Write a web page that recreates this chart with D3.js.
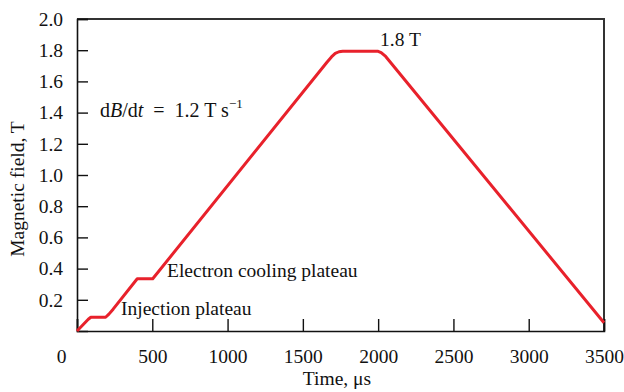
<!DOCTYPE html>
<html>
<head>
<meta charset="utf-8">
<script src="https://cdn.jsdelivr.net/npm/d3@7"></script>
<style>
  body { margin: 0; background: #fff; }
  text { font-family: "Liberation Serif", "Times New Roman", serif; fill: #111; }
</style>
</head>
<body>
<script>
// field cycle (time in microseconds, field in tesla)
let times  = [0, 40, 75, 92, 190, 212, 240, 400, 503, 1660, 1690, 1715, 1740, 1765, 2000, 2020, 2050, 3500]
let fields = [0, 0.04, 0.075, 0.088, 0.088, 0.108, 0.14, 0.335, 0.335, 1.723, 1.757, 1.779, 1.790, 1.793, 1.793, 1.785, 1.76, 0.053]

let xTicks = [0, 500, 1000, 1500, 2000, 2500, 3000, 3500]
let yTicks = [0.2, 0.4, 0.6, 0.8, 1.0, 1.2, 1.4, 1.6, 1.8, 2.0]

let
  width = 624,
  height = 392;

let margin = {
  top: 19,
  bottom: 61,
  left: 77,
  right: 20
}

let fs = '19.5px'

let svg = d3.select('body')
            .append('svg')
            .attr('width', width)
            .attr('height', height)

let xScale = d3.scaleLinear()
            .domain([0, 3500])
            .range([margin.left, width - margin.right])

let yScale = d3.scaleLinear()
            .domain([0, 2.0])
            .range([height - margin.bottom, margin.top])

// frame: top and right sides
svg.append('path')
   .attr('d', `M${margin.left},${margin.top}H${width - margin.right}V${height - margin.bottom}`)
   .attr('fill', 'none')
   .attr('stroke', '#333')
   .attr('stroke-width', 2)

let xAxis = svg.append('g')
            .attr('transform', `translate(0, ${height - margin.bottom})`)
            .call(d3.axisBottom(xScale).tickValues(xTicks).tickSize(-12).tickPadding(18).tickFormat(d3.format('d')))

xAxis.selectAll('.tick text')
     .attr('dx', d => d === 0 ? -16 : 0)

let yAxis = svg.append('g')
            .attr('transform', `translate(${margin.left}, 0)`)
            .call(d3.axisLeft(yScale).tickValues(yTicks).tickSize(-11).tickPadding(14).tickFormat(d3.format('.1f')))

svg.selectAll('.domain').attr('stroke', '#111').attr('stroke-width', 1.6)
svg.selectAll('.tick line').attr('stroke', '#111').attr('stroke-width', 1.4)
svg.selectAll('.tick text')
   .style('font-family', '"Liberation Serif", serif')
   .style('font-size', fs)
   .attr('fill', '#111')

// axis titles
svg.append('text')
   .attr('x', 337)
   .attr('y', 385)
   .style('text-anchor', 'middle')
   .style('font-size', fs)
   .text('Time, μs')

svg.append('text')
   .attr('transform', 'translate(24, 189) rotate(-90)')
   .style('text-anchor', 'middle')
   .style('font-size', fs)
   .text('Magnetic field, T')

// the field curve
let pts = times.map((t, i) => [t, fields[i]])
let line = d3.line()
             .x(d => xScale(d[0]))
             .y(d => yScale(d[1]))

svg.append('path')
   .datum(pts)
   .attr('d', line)
   .attr('fill', 'none')
   .attr('stroke', '#e8212b')
   .attr('stroke-width', 3)
   .attr('stroke-linejoin', 'round')

// annotations
let note = (x, y, s) => svg.append('text').attr('x', x).attr('y', y).style('font-size', fs).text(s)
note(380, 46, '1.8 T')
note(167, 277, 'Electron cooling plateau')
note(121, 315, 'Injection plateau')

let eq = svg.append('text').attr('x', 100).attr('y', 117).style('font-size', '20px')
eq.append('tspan').text('d')
eq.append('tspan').style('font-style', 'italic').text('B')
eq.append('tspan').text('/d')
eq.append('tspan').style('font-style', 'italic').text('t')
eq.append('tspan').text('\u2002=\u20021.2 T s')
eq.append('tspan').attr('dy', -9).style('font-size', '13px').text('−1')
</script>
</body>
</html>
